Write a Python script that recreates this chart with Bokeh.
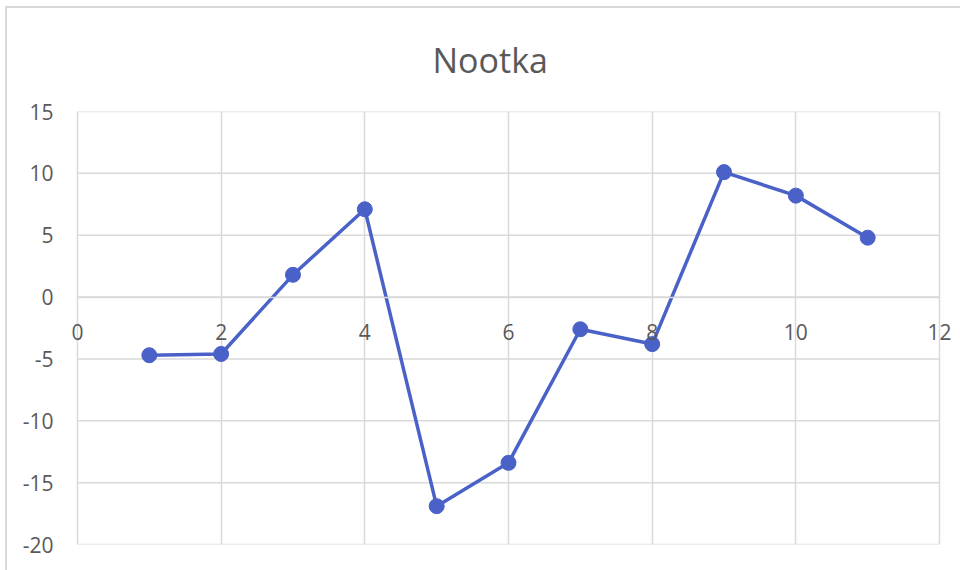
from bokeh.plotting import figure
from bokeh.models import LinearAxis, FixedTicker, Range1d, PrintfTickFormatter
from bokeh.embed import file_html
from bokeh.resources import INLINE

x_vals = [1, 2, 3, 4, 5, 6, 7, 8, 9, 10, 11]
y_vals = [-4.7, -4.6, 1.8, 7.1, -16.9, -13.4, -2.6, -3.8, 10.1, 8.2, 4.8]
x_ticks = [0, 2, 4, 6, 8, 10, 12]
y_ticks = [-20, -15, -10, -5, 0, 5, 10, 15]
title_text = "Nootka"

FONT = "Open Sans"
TXT = "#595959"
GRID = "#d9d9d9"
BLUE = "#4a62c8"

p = figure(width=953, height=562, output_backend="svg", toolbar_location=None,
           x_range=Range1d(-0.25, 12.25), y_range=Range1d(-20, 15),
           x_axis_location=None, min_border_left=52, min_border_right=3,
           min_border_top=103, min_border_bottom=26)
p.styles = {"margin-left": "7px", "margin-top": "8px",
            "outline": "2px solid #d9d9d9"}
p.outline_line_color = None

p.title.text = title_text
p.title.align = "left"
p.title.offset = 373
p.title.vertical_align = "top"
p.title.standoff = 54
p.title.text_font = FONT
p.title.text_font_size = "34px"
p.title.text_font_style = "normal"
p.title.text_color = TXT

xa = LinearAxis(fixed_location=0, ticker=FixedTicker(ticks=x_ticks), bounds=(0, 12))
xa.axis_line_color = GRID
xa.axis_line_width = 1.5
xa.major_tick_line_color = None
xa.minor_tick_line_color = None
xa.major_label_standoff = 21
xa.major_label_text_font = FONT
xa.major_label_text_font_size = "21px"
xa.major_label_text_color = TXT
p.add_layout(xa, "below")

ya = p.yaxis[0]
ya.ticker = FixedTicker(ticks=y_ticks)
ya.formatter = PrintfTickFormatter(format="%d")
ya.axis_line_color = None
ya.major_tick_line_color = None
ya.minor_tick_line_color = None
ya.major_label_standoff = 0
ya.major_label_text_font = FONT
ya.major_label_text_font_size = "21px"
ya.major_label_text_color = TXT

p.xgrid.ticker = FixedTicker(ticks=x_ticks)
p.xgrid.grid_line_color = GRID
p.xgrid.grid_line_width = 1.5
p.ygrid.grid_line_color = None

# horizontal gridlines spanning only the 0..12 domain
p.segment(x0=[x_ticks[0]] * len(y_ticks), x1=[x_ticks[-1]] * len(y_ticks),
          y0=y_ticks, y1=y_ticks, line_color=GRID, line_width=1.5)

p.line(x_vals, y_vals, line_color=BLUE, line_width=3.5)
p.scatter(x_vals, y_vals, size=15, fill_color=BLUE, line_color=BLUE)

open("out.html", "w").write(file_html(p, INLINE))
